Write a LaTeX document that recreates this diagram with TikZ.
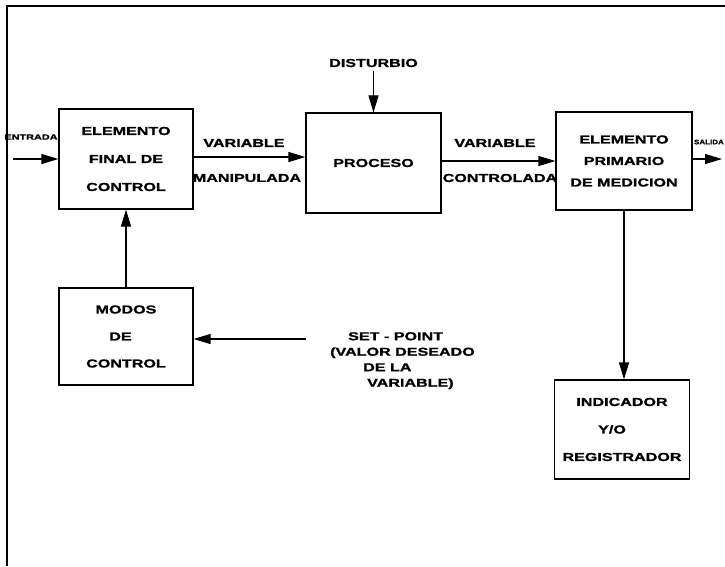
\documentclass[tikz,border=0pt]{standalone}
\usepackage{fontspec}
\newfontfamily\diagfont[FakeStretch=1.4,FakeBold=1.2]{Liberation Sans Bold}
\newfontfamily\tagfont[FakeStretch=1.45,FakeBold=1]{Liberation Sans Bold}
\usetikzlibrary{arrows.meta}

\begin{document}
\begin{tikzpicture}[x=1pt, y=-1pt,
    block/.style={draw, line width=1.2pt, inner sep=0pt, align=center,
        minimum width=134pt, minimum height=100pt},
    lbl/.style={inner sep=0pt, font=\diagfont\fontsize{11.5}{14}\selectfont},
    arr/.style={line width=1.1pt, -{Triangle[length=17pt, width=10pt]}}]
    \useasboundingbox (0,0) rectangle (725,566);
    \draw[line width=1.6pt] (7,566) -- (7,6) -- (725,6);
    % blocks
    \node[block, font=\diagfont\fontsize{11.5}{28}\selectfont]
        (fin) at (126,159) {ELEMENTO\\FINAL DE\\CONTROL};
    \node[block, minimum width=135pt, font=\diagfont\fontsize{11.5}{14}\selectfont]
        (proc) at (373.5,163) {PROCESO};
    \node[block, minimum width=136pt, minimum height=98pt,
        font=\diagfont\fontsize{11.5}{21.5}\selectfont]
        (med) at (624,161) {ELEMENTO\\PRIMARIO\\DE MEDICION};
    \node[block, minimum height=97pt, font=\diagfont\fontsize{11.5}{27}\selectfont]
        (modos) at (126,336.5) {MODOS\\DE\hbox to 11pt{}\\CONTROL};
    \node[block, minimum width=135pt, minimum height=99pt,
        font=\diagfont\fontsize{11.5}{27.5}\selectfont]
        (ind) at (622,429.5) {INDICADOR\\Y/O\hbox to 20pt{}\\REGISTRADOR};
    % labels
    \node[lbl] (dist) at (373.5,63) {DISTURBIO};
    \node[lbl] (varm) at (244,143) {VARIABLE};
    \node[lbl] (manip) at (247,178) {MANIPULADA};
    \node[lbl] (varc) at (495,143) {VARIABLE};
    \node[lbl] (contr) at (500,178) {CONTROLADA};
    \node[lbl, anchor=north west, align=left,
        font=\diagfont\fontsize{11.5}{15.5}\selectfont] (setp) at (330,332)
        {\hspace*{18pt}SET - POINT\\(VALOR DESEADO\\\hspace*{33pt}DE LA\\\hspace*{37pt}VARIABLE)};
    \node[inner sep=0pt, font=\tagfont\fontsize{7.5}{9}\selectfont]
        (ent) at (31,137) {ENTRADA};
    \node[inner sep=0pt, anchor=east, font=\tagfont\fontsize{6.5}{8}\selectfont,
        xscale=0.85] (sal) at (724,142) {SALIDA};
    \coordinate (in) at (13,159);
    \coordinate (out) at (722,159);
    \coordinate (sp) at (306,339);
    % connectors
    \draw[arr] (in) -- (fin.west |- in);
    \draw[arr] (fin.east) ++(0,-2) -- (proc.west |- 0,157);
    \draw[arr] (dist.south) ++(0,4) -- (proc.north);
    \draw[arr] (proc.east |- med.west) -- (med.west);
    \draw[arr] (med.east |- out) -- (out);
    \draw[arr] (med.south) -- (ind.north -| med.south);
    \draw[arr] (modos.north) -- (fin.south);
    \draw[arr] (sp) -- (modos.east |- sp);
\end{tikzpicture}
\end{document}
